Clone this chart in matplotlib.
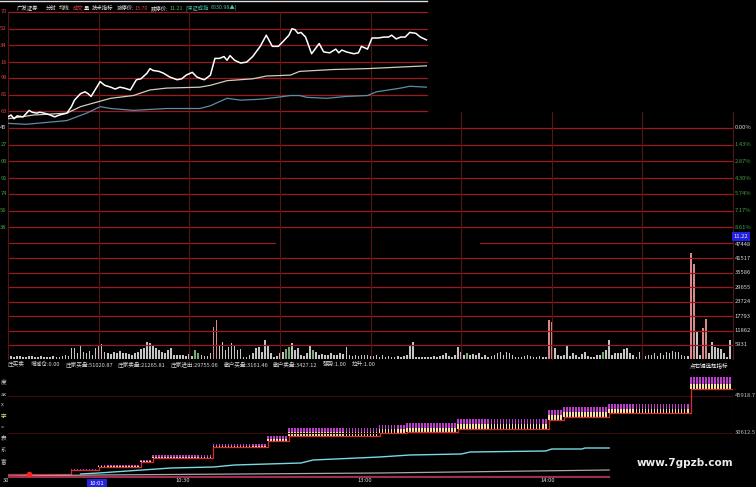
import numpy as np
import matplotlib
matplotlib.use('Agg')
import matplotlib.pyplot as plt
from matplotlib.lines import Line2D

plt.rcParams['font.family'] = ['Noto Sans CJK SC', 'DejaVu Sans']

W, H = 756, 487
BG = '#000000'
GRID_H = '#9a1a1e'
GRID_V = '#5a1418'
RED = '#d84040'
GREEN = '#3fa040'
LIGHT = '#d8d8d8'

# ---------------- 数据 ----------------
# 分时价格 (分钟, 价格)
price_min = [0, 1, 2, 3, 5, 7, 8, 9.5, 10.5, 12,
             14, 15.5, 17, 19.5, 21, 22, 24, 25.5, 26.5, 27.5,
             30.5, 32, 34, 35.5, 37, 38.5, 40.5, 42.5, 44, 46,
             47, 48, 50, 51.5, 53.5, 56, 57.5, 59, 61, 62.5,
             64, 65, 67, 68.5, 70, 71.5, 72.5, 73.5, 75, 77,
             79, 81, 83.5, 85.5, 87.5, 89.5, 91, 93, 94, 95,
             96, 97, 98.5, 100.5, 103, 104.5, 106.5, 108.5, 109.5, 110.5,
             112, 114.5, 116, 117, 119, 120.5, 122.5, 124.5, 126, 127,
             128.5, 130, 131.5, 133, 135, 136.5, 138.5]
price_val = [12.57, 12.59, 12.55, 12.58, 12.57, 12.64, 12.62, 12.61, 12.62, 12.61,
             12.59, 12.57, 12.59, 12.61, 12.68, 12.75, 12.82, 12.84, 12.82, 12.79,
             12.95, 12.91, 12.89, 12.87, 12.89, 12.88, 12.86, 12.97, 12.98, 13.04,
             13.09, 13.07, 13.06, 13.04, 13.00, 12.97, 12.98, 13.02, 13.05, 13.00,
             12.98, 12.97, 13.02, 13.20, 13.20, 13.22, 13.18, 13.23, 13.18, 13.15,
             13.16, 13.22, 13.33, 13.45, 13.33, 13.33, 13.38, 13.45, 13.52, 13.51,
             13.47, 13.48, 13.43, 13.25, 13.36, 13.27, 13.26, 13.30, 13.26, 13.29,
             13.27, 13.25, 13.26, 13.33, 13.30, 13.42, 13.42, 13.43, 13.43, 13.45,
             13.41, 13.43, 13.43, 13.48, 13.47, 13.43, 13.40]

# 均价线
avg_min = [0, 8.5, 19.5, 24, 29.5, 34, 41.5, 47, 52.5, 63.5,
           67, 72.5, 81, 85.5, 93.5, 96.5, 107.5, 119, 132, 138.5]
avg_val = [12.55, 12.59, 12.61, 12.68, 12.73, 12.77, 12.80, 12.86, 12.88, 12.89,
           12.91, 12.96, 12.98, 13.01, 13.02, 13.06, 13.08, 13.09, 13.11, 13.12]

# 叠加指数线
idx_min = [0, 6, 19.5, 26, 30.5, 34, 41.5, 52.5, 59, 63.5,
           67, 72.5, 77, 83.5, 89, 93.5, 96.5, 99, 105.5, 112,
           119, 122, 130, 133, 138.5]
idx_val = [12.50, 12.49, 12.53, 12.61, 12.68, 12.66, 12.64, 12.66, 12.66, 12.66,
           12.69, 12.77, 12.75, 12.76, 12.78, 12.80, 12.80, 12.78, 12.77, 12.79,
           12.80, 12.84, 12.88, 12.90, 12.89]

price_levels = [13.70, 13.52, 13.34, 13.16, 12.99, 12.81, 12.63, 12.45,
                12.27, 12.09, 11.91, 11.74, 11.56, 11.38, 11.21]
pct_labels = ['0.00%', '1.43%', '2.87%', '4.30%', '5.74%', '7.17%', '8.61%']

# 成交量 (每分钟)
volume = [1800, 1400, 1100, 1200, 1400, 1100, 1100, 1300, 1200, 1000, 1100, 1200, 900, 1000, 1100, 1300, 1000, 1100,
          1200, 1800, 1400,
          4500, 4500, 2500, 5900, 3200, 2700, 3600,
          1800, 4500, 5500, 6300, 3200, 2700,
          2200, 3200, 2500, 3600, 2500, 2500, 2200,
          1800, 2500, 3200, 4100, 4500, 7300, 6900,
          5900, 4500, 3800, 3200, 2700, 3800, 4500,
          2000, 1800, 1800, 1800, 1400, 2200, 1600,
          3800, 2500, 1800, 1400, 1400, 2500,
          13450, 16200, 5900, 7300, 3800, 5200, 6600, 5500, 3800, 4100,
          800, 1100, 1800, 2500, 4500, 4900, 3000, 8000, 5500, 2500,
          1100, 1400, 2500, 3200, 4100, 4900, 6900, 3800, 4500, 1800, 1400,
          2500, 5500, 3800, 3200, 1800, 2200, 1800, 1800, 2500, 1800, 1800, 2500, 2200,
          4900, 1800, 1400, 1800, 1400, 1800, 1800, 1800, 1400, 1200, 1800,
          1100, 1800, 1100, 1400, 1100, 1100, 1400, 1100, 1400, 1800, 5900, 7300,
          1100, 800, 1100, 1100, 800, 1100, 1400, 1100, 1400, 1800, 2500, 1400, 1100, 1800,
          4900, 3200, 1800, 2500, 1800, 2200, 1800, 2500, 1100, 1800, 1100, 1400, 1800, 2500,
          3200, 1800, 3200, 2500, 1800, 1100, 800, 1100, 1400, 1800, 1400, 800, 1100, 1400, 1100, 800,
          16200, 15500, 4500, 1800, 1400, 1800, 5500, 1400, 2500, 1800, 1100, 2200,
          3200, 1400, 1100, 1100, 1800, 1800, 3200, 3800, 8000,
          1800, 2500, 2700, 2500, 4100, 4500, 2500, 1800, 1100, 3200, 1800, 1400, 1800,
          1800, 2500, 1400, 2500, 1800, 3200, 2500, 3500, 3200, 3200, 1800, 1400, 1400,
          43660, 39270, 11400, 1800, 12770, 16600, 2500, 7300, 4900, 4500, 4100, 2500, 1100, 8000]
vol_red = [68, 69, 179, 180, 226, 227, 230, 231]
vol_green = [62, 63, 92, 93, 101, 152, 197]
vol_levels = [5931, 11862, 17793, 23724, 29655, 35586, 41517, 47448]

# 庄买卖指标：分段 (起始分钟, 底线, 柱顶)
seg_start = [0, 21, 30, 44, 48, 68, 86, 93, 123, 132, 149, 179, 184, 199, 226]
seg_base = [13650, 15305, 16546, 18615, 20269, 24820, 27302, 29371,
            30612, 31026, 32267, 35990, 37231, 38886, 48814]
seg_top = [13650, 15700, 17373, 19442, 21510, 26061, 29371, 32680,
           33921, 34749, 36404, 40127, 41368, 42609, 53779]

cyan_min = [24, 30, 54, 68, 75, 97, 101, 123, 133, 150, 153, 178, 180, 190, 191, 199]
cyan_val = [13650, 14064, 16132, 16546, 17373, 18201, 19442, 20683, 21510,
            21924, 22751, 23165, 23992, 23992, 24406, 24406]
gray_min = [0, 30, 123, 199]
gray_val = [12823, 13236, 14064, 15305]
base_min = [0, 199]
base_val = [12408, 12408]
ind_levels = [45918.7, 30612.5]

time_pos = [29.5, 57.7, 118.2, 178.8]
time_labels = ['10:01', '10:30', '13:00', '14:00']

# ---------------- 画布 ----------------
fig = plt.figure(figsize=(W / 100, H / 100), dpi=100, facecolor=BG)
renderer = fig.canvas.get_renderer()


def px_axes(x0, y0, x1, y1):
    ax = fig.add_axes([x0 / W, 1 - y1 / H, (x1 - x0) / W, (y1 - y0) / H])
    ax.set_axis_off()
    ax.set_xlim(0, 240)
    return ax


def ftext(x, y, s, **kw):
    kw.setdefault('fontsize', 3.9)
    kw.setdefault('va', 'center')
    return fig.text(x / W, 1 - y / H, s, **kw)


def text_row(x, y, pieces, **kw):
    # 依次排列多段文字，gap 为像素间距
    for s, c, gap in pieces:
        t = ftext(x, y, s, color=c, **kw)
        x = t.get_window_extent(renderer).x1 + gap


# ---- 价格区 ----
ax_p = px_axes(8, 12, 733, 244)
ax_p.set_ylim(11.20, 13.70)
top_cut = (427 - 8) / 725
for p in price_levels:
    kw = dict(color=GRID_H, lw=0.9, clip_on=False)
    if p >= 12.63:
        ax_p.axhline(p, xmax=top_cut, **kw)
    elif p <= 11.21:
        ax_p.axhline(p, xmax=(275 - 8) / 725, **kw)
        ax_p.axhline(p, xmin=(480 - 8) / 725, **kw)
    else:
        ax_p.axhline(p, **kw)
low_part = (244 - 112) / 232
for m in [0, 30, 60, 90, 120]:
    ax_p.axvline(m, color=GRID_V, lw=0.8, clip_on=False)
for m in [150, 180, 210, 240]:
    ax_p.axvline(m, ymax=low_part, color=GRID_V, lw=0.8, clip_on=False)

ax_p.plot(idx_min, idx_val, color='#5b8ea6', lw=0.9)
ax_p.plot(avg_min, avg_val, color='#cfcfc0', lw=0.9)
ax_p.plot(price_min, price_val, color='white', lw=1.1)

# 左侧价格刻度（截图左缘只露出末两位）
for p in price_levels[:-1]:
    if p > 12.451:
        c = RED
    elif p > 12.449:
        c = LIGHT
    else:
        c = GREEN
    ax_p.text(-0.4, p, f'{p:.2f}'[-2:], ha='right', va='center', fontsize=4.2,
              color=c, clip_on=False)
for p, lab in zip(price_levels[7:14], pct_labels):
    ax_p.text(240.6, p, lab, ha='left', va='center', fontsize=4.2,
              color=LIGHT if lab == '0.00%' else GREEN, clip_on=False)
ax_p.text(240.2, 11.28, '11.22', ha='left', va='center', fontsize=4.2,
          color='#f0f0c0', clip_on=False,
          bbox=dict(boxstyle='square,pad=0.35', fc='#2020e8', ec='none'))

# ---- 成交量区 ----
ax_v = px_axes(8, 244, 733, 359.4)
ax_v.set_ylim(0, 47448)
for lv in vol_levels[:-1]:
    ax_v.axhline(lv, color=GRID_H, lw=0.9)
for m in [0, 30, 60, 90, 120, 150, 180, 210, 240]:
    ax_v.axvline(m, color=GRID_V, lw=0.8, clip_on=False)
vol_x = np.arange(len(volume))
vol_colors = ['#c4c4c4'] * len(volume)
for i in vol_red:
    vol_colors[i] = '#d88888'
for i in vol_green:
    vol_colors[i] = '#6fae6f'
ax_v.bar(vol_x, volume, width=0.55, color=vol_colors, align='center')
for lv in vol_levels:
    ax_v.text(240.6, lv, str(lv), ha='left', va='center', fontsize=4.2,
              color=LIGHT, clip_on=False)

# ---- 庄买卖指标区 ----
ax_i = px_axes(8, 359, 733, 478)
ax_i.set_ylim(11995, 61225)
for lv in ind_levels:
    ax_i.axhline(lv, color='#3a0c0e', lw=0.8)
    ax_i.text(240.6, lv, f'{lv:.1f}', ha='left', va='center', fontsize=4.2,
              color='#bdbdbd', clip_on=False)
ax_i.axvline(240, ymin=(478 - 440) / 119, ymax=(478 - 370) / 119,
             color=GRID_V, lw=0.8)

durations = np.diff(seg_start + [240])
minutes = np.arange(240)
base = np.repeat(seg_base, durations)
top = np.repeat(seg_top, durations)
mid = base + 0.45 * (top - base)
show = minutes >= 21
ax_i.bar(minutes[show], (mid - base)[show], bottom=base[show], width=0.55,
         color='#f2e2a0')
ax_i.bar(minutes[show], (top - mid)[show], bottom=mid[show], width=0.55,
         color='#c03cd0')
ax_i.plot(np.append(minutes, 240), np.append(base, base[-1]),
          drawstyle='steps-post', color='#d82a2a', lw=0.9)
ax_i.plot(cyan_min, cyan_val, color='#7ad8e2', lw=1.0)
ax_i.plot(gray_min, gray_val, color='#a8a8a8', lw=0.9)
ax_i.plot(base_min, base_val, color='#a02c52', lw=1.6)
ax_i.plot([7], [13650], 'o', color='#ff2020', ms=3)

# 时间轴
xt = ax_i.get_xaxis_transform()
ax_i.text(0.3, -0.025, '30', transform=xt, ha='right', va='center',
          fontsize=4.2, color=LIGHT, clip_on=False)
for m, lab in zip(time_pos, time_labels):
    if lab == '10:01':
        ax_i.text(m, -0.05, lab, transform=xt, ha='center', va='center',
                  fontsize=4.2, color='white', clip_on=False,
                  bbox=dict(boxstyle='square,pad=0.5', fc='#2424e0', ec='none'))
    else:
        ax_i.text(m, -0.025, lab, transform=xt, ha='center', va='center',
                  fontsize=4.2, color=LIGHT, clip_on=False)

# ---------------- 文字 ----------------
fig.add_artist(Line2D([0, 427 / W], [1 - 0.6 / H] * 2, color='#e0e0e0', lw=1.0))

header = [('广发证券', '#e8e8e8', 7), ('分时', '#e8e8e8', 3), ('均线', '#e8e8c8', 3),
          ('成交', RED, 0), ('量', '#e8e8e8', 3), ('技术指标', '#e8e8e8', 3),
          ('涨停价:', '#e8e8e8', 0.5), ('13.70', RED, 3), ('跌停价:', '#e8e8e8', 0.5),
          ('11.21', '#40c040', 3), ('[深证成指', '#40c0a8', 2), ('8530.98▲]', '#40c0a8', 0)]
text_row(17, 8, header)

ind_header = [('庄买卖', LIGHT, 6), ('增减仓:0.00', LIGHT, 5), ('庄家买盘:51020.87', LIGHT, 5),
              ('庄家卖盘:21265.81', LIGHT, 5), ('庄家进出:29755.06', LIGHT, 5),
              ('散户买盘:3161.46', LIGHT, 5), ('散户卖盘:3427.12', LIGHT, 5),
              ('强势:1.00', LIGHT, 5), ('拉升:1.00', LIGHT, 0)]
text_row(8, 364.5, ind_header, fontsize=4.1)
ftext(690, 365, '点右键选择指标', color='#f0f0f0', fontsize=4.0)

side_chars = ['度', 'ax', 'x', '字', '=', '表', '系', '富']
side_y = [383, 395, 405, 417, 427, 438, 450, 462]
for s, y in zip(side_chars, side_y):
    ftext(0.5, y, s, color='#f0e080' if s == '字' else '#c8c8c8',
          fontsize=4.0, ha='left')

ftext(637, 463, 'www.7gpzb.com', color='#ececec', fontsize=7.5,
      fontweight='bold', family='DejaVu Sans')

fig.savefig('out.png', dpi=100, facecolor=BG)
